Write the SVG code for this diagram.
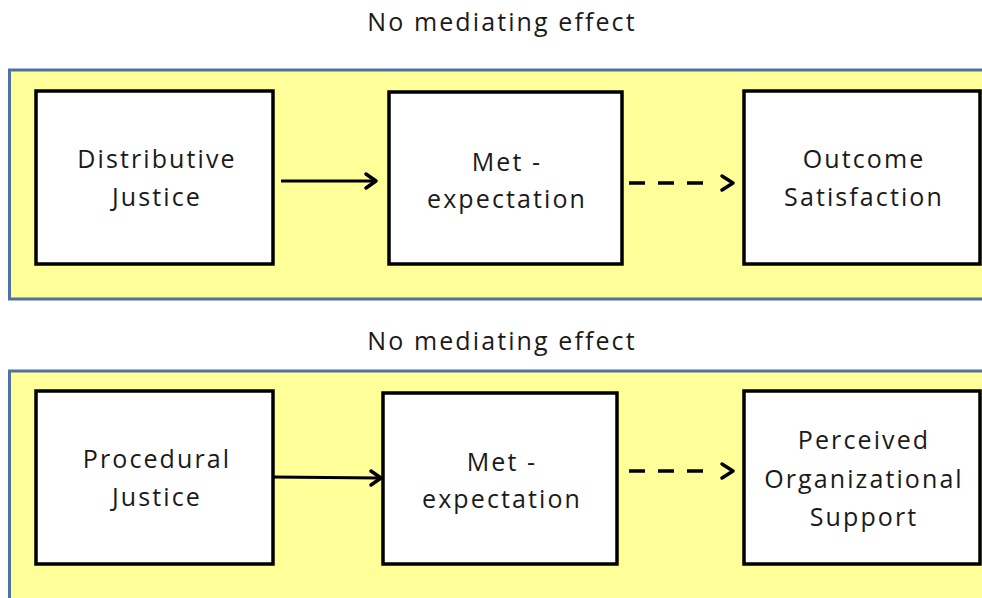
<svg xmlns="http://www.w3.org/2000/svg" width="982" height="598" viewBox="0 0 982 598">
  <defs>
    <style>
      .panel { fill: #FFFF99; stroke: #52719F; stroke-width: 3; }
      .box { fill: #FFFFFF; stroke: #000000; stroke-width: 3.5; }
      .label, .title { font-family: "Open Sans", "Noto Sans", sans-serif; font-size: 25px; letter-spacing: 2.1px; fill: #1a1a1a; text-anchor: middle; }
      .solid { fill: none; stroke: #000000; stroke-width: 3; }
      .dashed { fill: none; stroke: #000000; stroke-width: 3.5; stroke-dasharray: 16 13; }
      .head { fill: none; stroke: #000000; stroke-width: 3.5; stroke-linecap: round; stroke-linejoin: round; }
    </style>
  </defs>

  <rect width="982" height="598" fill="#FFFFFF"/>

  <!-- upper panel -->
  <text class="title" x="502" y="31">No mediating effect</text>
  <rect class="panel" x="9.5" y="70" width="990" height="229"/>

  <!-- lower panel -->
  <text class="title" x="502" y="350">No mediating effect</text>
  <rect class="panel" x="9.5" y="371" width="990" height="240"/>

  <g id="distributive-justice">
    <rect class="box" x="36" y="91" width="237" height="173"/>
    <text class="label" x="157" y="168">Distributive</text>
    <text class="label" x="157" y="206">Justice</text>
  </g>
  <g id="met-expectation-1">
    <rect class="box" x="389" y="92" width="233" height="172"/>
    <text class="label" x="507" y="171">Met -</text>
    <text class="label" x="507" y="208">expectation</text>
  </g>
  <g id="outcome-satisfaction">
    <rect class="box" x="744" y="91" width="236" height="173"/>
    <text class="label" x="864" y="168">Outcome</text>
    <text class="label" x="864" y="206">Satisfaction</text>
  </g>

  <g id="procedural-justice">
    <rect class="box" x="36" y="391" width="237" height="173"/>
    <text class="label" x="157" y="468">Procedural</text>
    <text class="label" x="157" y="506">Justice</text>
  </g>
  <g id="met-expectation-2">
    <rect class="box" x="383" y="393" width="234" height="171"/>
    <text class="label" x="502" y="471">Met -</text>
    <text class="label" x="502" y="508">expectation</text>
  </g>
  <g id="perceived-organizational-support">
    <rect class="box" x="744" y="391" width="236" height="173"/>
    <text class="label" x="864" y="449">Perceived</text>
    <text class="label" x="864" y="488">Organizational</text>
    <text class="label" x="864" y="526">Support</text>
  </g>

  <g id="connectors">
    <!-- solid: justice to met-expectation -->
    <line class="solid" x1="281" y1="181" x2="375" y2="181"/>
    <polyline class="head" points="366,174 376,181 366,188"/>
    <line class="solid" x1="273" y1="477" x2="380" y2="478"/>
    <polyline class="head" points="371,471 381,478 371,485"/>
    <!-- dashed: met-expectation to outcome (no mediation) -->
    <line class="dashed" x1="629" y1="183" x2="716" y2="183"/>
    <polyline class="head" points="722,176 733,183 722,190"/>
    <line class="dashed" x1="629" y1="471" x2="716" y2="471"/>
    <polyline class="head" points="722,464 733,471 722,478"/>
  </g>
</svg>
